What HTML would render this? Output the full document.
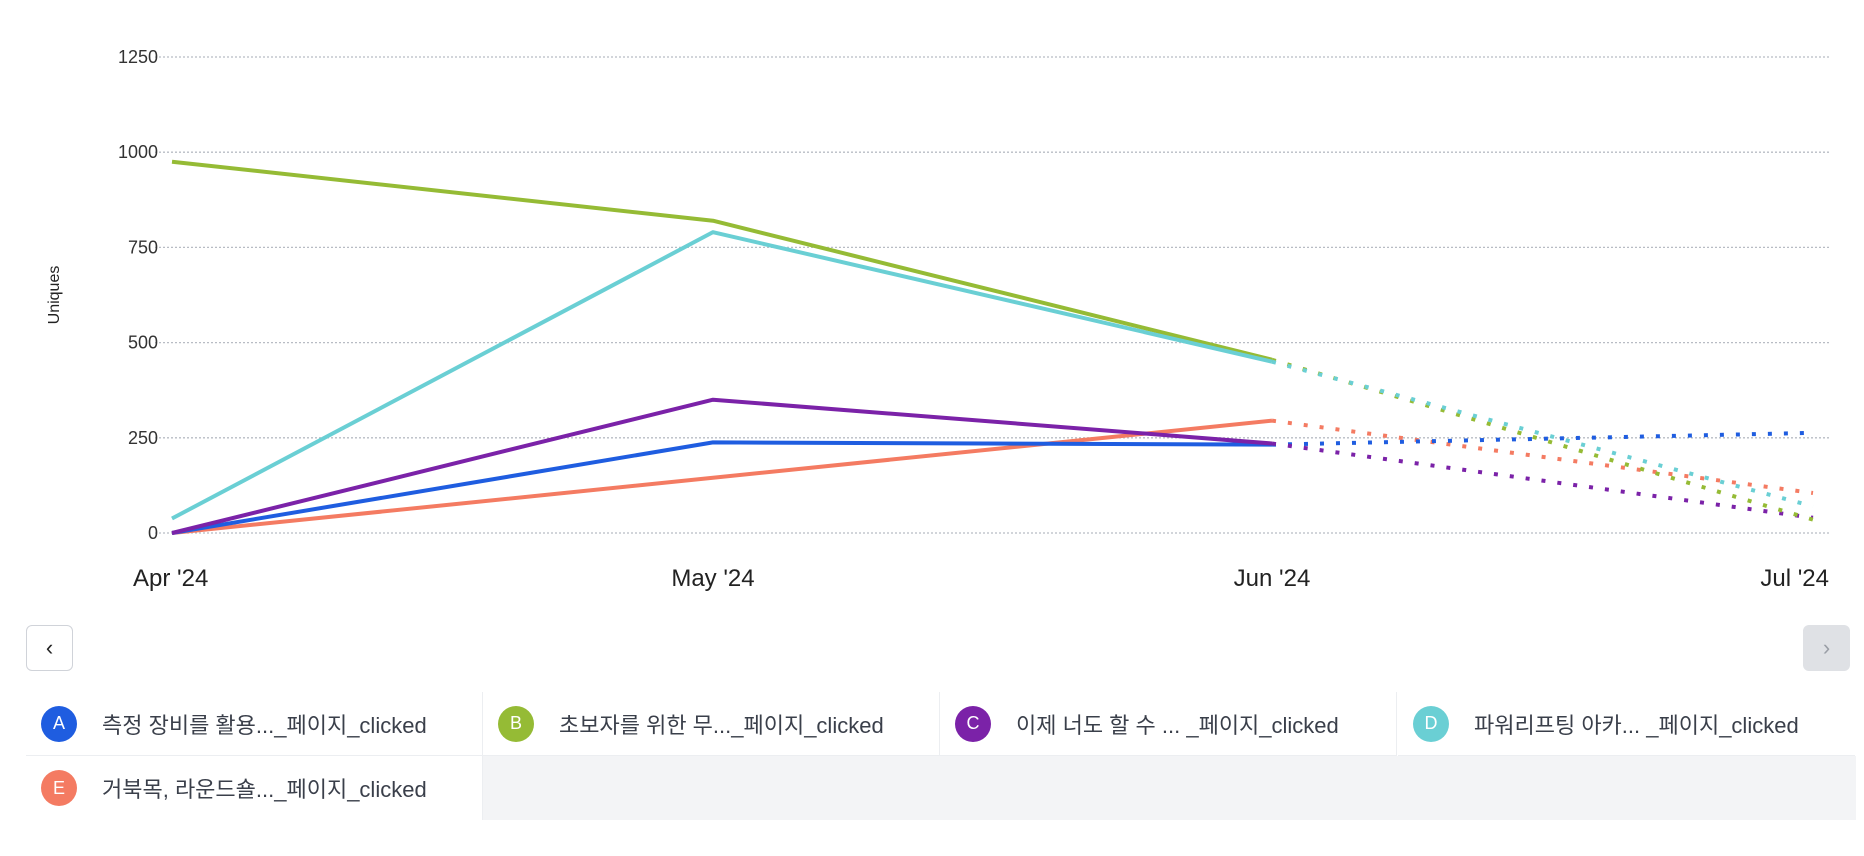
<!DOCTYPE html>
<html><head><meta charset="utf-8"><style>
body{margin:0;width:1864px;height:856px;background:#fff;font-family:"Liberation Sans","Noto Sans CJK KR",sans-serif;position:relative;overflow:hidden}
svg{position:absolute;left:0;top:0}
.btn{position:absolute;box-sizing:border-box;border-radius:6px;display:flex;align-items:center;justify-content:center;font-size:22px}
.cell{position:absolute;height:64px;width:457px;box-sizing:border-box;border-right:1px solid #eceef1;border-bottom:1px solid #eceef1;display:flex;align-items:center;font-size:22px;color:#3a3f4a;white-space:nowrap}
.dot{width:36px;height:36px;border-radius:50%;color:#fff;font-size:18px;display:flex;align-items:center;justify-content:center;margin-left:15px;margin-right:25px;flex:none}
</style></head><body>
<svg id="chart" width="1864" height="600"></svg>
<div class="btn" style="left:26px;top:625px;width:47px;height:46px;border:1px solid #d0d3d9;color:#222">&#8249;</div>
<div class="btn" style="left:1803px;top:625px;width:47px;height:46px;background:#dfe1e5;color:#9a9ea6">&#8250;</div>
<div style="position:absolute;left:483px;top:756px;width:1373px;height:64px;background:#f3f4f6"></div>
<div class="cell" style="left:26px;top:692px"><span class="dot" style="background:#1f5de0">A</span>측정 장비를 활용..._페이지_clicked</div>
<div class="cell" style="left:483px;top:692px"><span class="dot" style="background:#95bb35">B</span>초보자를 위한 무..._페이지_clicked</div>
<div class="cell" style="left:940px;top:692px"><span class="dot" style="background:#7b22a8">C</span>이제 너도 할 수 ... _페이지_clicked</div>
<div class="cell" style="left:1398px;top:692px;border-right:none"><span class="dot" style="background:#6acfd4">D</span>파워리프팅 아카... _페이지_clicked</div>
<div class="cell" style="left:26px;top:756px;border-bottom:none"><span class="dot" style="background:#f47b62">E</span>거북목, 라운드숄..._페이지_clicked</div>
<script>
const categories=["Apr '24","May '24","Jun '24","Jul '24"];
const yTicks=[0,250,500,750,1000,1250];
const seriesA=[0,238,232,263];
const seriesB=[975,820,455,35];
const seriesC=[0,350,235,40];
const seriesD=[38,790,450,70];
const seriesE=[0,145,295,105];
const svg=document.getElementById('chart');
const NS='http://www.w3.org/2000/svg';
const xPos=[172,713,1272,1813];
function x(i){return xPos[0]+(xPos[3]-xPos[0])*(i/(categories.length-1))*0+xPos[i]-xPos[0];}
function y(v){return 533-(v/1250)*476;}
function mk(t,a){const e=document.createElementNS(NS,t);for(const k in a)e.setAttribute(k,a[k]);svg.appendChild(e);return e;}
yTicks.forEach(t=>{
 const g=mk('line',{x1:155,x2:1831,y1:y(t),y2:y(t),stroke:'#b8bcc4','stroke-width':1.3,'stroke-dasharray':'2 2'});
 
 
 const l=mk('text',{x:158,y:y(t)+6,'text-anchor':'end','font-size':18,fill:'#333'});
 l.textContent=t;
 
 
});
categories.forEach((c,i)=>{
 const anchor=i==0?'start':(i==3?'end':'middle');
 const xx=i==0?133:(i==3?1829:x(i));
 const l=mk('text',{x:xx,y:586,'text-anchor':anchor,'font-size':24,fill:'#222'});
 l.textContent=c;
 
 
});
const yt=mk('text',{x:0,y:0,transform:'translate(59,295) rotate(-90)','text-anchor':'middle','font-size':16,fill:'#222'});
yt.textContent='Uniques';


const series=[[seriesE,'#f47b62','e'],[seriesA,'#1f5de0','a'],[seriesC,'#7b22a8','c'],[seriesB,'#95bb35','b'],[seriesD,'#6acfd4','d']];
series.forEach(([s,col,n])=>{
 const pts=s.slice(0,3).map((v,i)=>x(i)+','+y(v)).join(' ');
 const p=mk('polyline',{points:pts,fill:'none',stroke:col,'stroke-width':4,'stroke-linejoin':'round'});
 
 
 const d=mk('line',{x1:x(2),y1:y(s[2]),x2:x(3),y2:y(s[3]),stroke:col,'stroke-width':4,'stroke-dasharray':'4 12'});
 
 
});
</script>
</body></html>
